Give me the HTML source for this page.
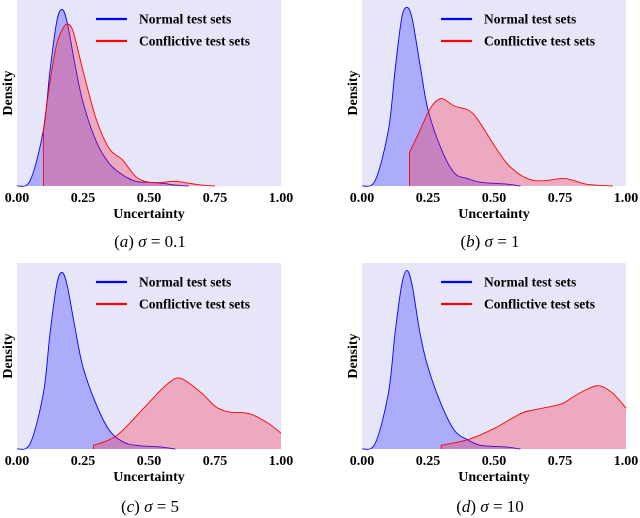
<!DOCTYPE html>
<html><head><meta charset="utf-8"><style>
body{margin:0;background:#fff;width:640px;height:518px;overflow:hidden}
svg{display:block}
text{font-family:"Liberation Serif",serif}
.tk{font-size:14px;font-weight:bold}
.lg{font-size:13.5px;font-weight:bold}
.cap{font-size:17px}
</style></head><body>
<svg id="c" width="640" height="518"></svg>
<script>
const tickLabels=["0.00","0.25","0.50","0.75","1.00"];
const tickValues=[0,0.25,0.5,0.75,1];
const capLetters=["a","b","c","d"];
const capValues=["0.1","1","5","10"];
const normalA=[[0,0],[0.05,0.03],[0.1,0.3],[0.125,0.62],[0.15,0.88],[0.17,0.95],[0.19,0.88],[0.22,0.65],[0.25,0.45],[0.3,0.24],[0.35,0.12],[0.4,0.06],[0.45,0.025],[0.5,0.02],[0.55,0.015],[0.6,0.005],[0.65,0]];
const conflA=[[0.1,0.3],[0.125,0.56],[0.15,0.76],[0.175,0.85],[0.195,0.87],[0.215,0.82],[0.25,0.62],[0.3,0.36],[0.35,0.2],[0.4,0.14],[0.45,0.05],[0.5,0.02],[0.55,0.02],[0.6,0.025],[0.65,0.015],[0.7,0.005],[0.75,0]];
const normalB=[[0,0],[0.05,0.03],[0.1,0.3],[0.125,0.62],[0.15,0.9],[0.17,0.96],[0.19,0.9],[0.22,0.65],[0.25,0.41],[0.3,0.2],[0.35,0.07],[0.4,0.04],[0.45,0.02],[0.55,0.01],[0.6,0]];
const conflB=[[0.18,0.18],[0.22,0.3],[0.26,0.42],[0.3,0.47],[0.35,0.43],[0.42,0.39],[0.5,0.22],[0.55,0.12],[0.6,0.06],[0.65,0.03],[0.7,0.03],[0.77,0.04],[0.85,0.01],[0.95,0]];
const normalC=[[0,0],[0.05,0.03],[0.1,0.3],[0.125,0.62],[0.15,0.88],[0.17,0.95],[0.19,0.88],[0.22,0.65],[0.25,0.44],[0.3,0.24],[0.35,0.1],[0.4,0.04],[0.45,0.02],[0.55,0.01],[0.6,0]];
const conflC=[[0.29,0.02],[0.35,0.05],[0.4,0.1],[0.5,0.25],[0.57,0.35],[0.62,0.38],[0.7,0.3],[0.75,0.23],[0.8,0.2],[0.88,0.19],[0.95,0.14],[1.0,0.085]];
const normalD=[[0,0],[0.05,0.03],[0.1,0.3],[0.125,0.62],[0.15,0.88],[0.17,0.96],[0.19,0.88],[0.22,0.62],[0.25,0.44],[0.3,0.24],[0.35,0.1],[0.4,0.05],[0.45,0.02],[0.55,0.01],[0.6,0]];
const conflD=[[0.3,0.02],[0.4,0.05],[0.5,0.11],[0.6,0.19],[0.65,0.21],[0.75,0.24],[0.8,0.28],[0.85,0.32],[0.9,0.34],[0.95,0.3],[1.0,0.22]];
const panels=[
 {x0:17,x1:281,top:0,bot:186,n:normalA,c:conflA,cx:150,cy:247},
 {x0:362,x1:626,top:0,bot:186,n:normalB,c:conflB,cx:490,cy:247},
 {x0:17,x1:281,top:263,bot:449,n:normalC,c:conflC,cx:150,cy:512},
 {x0:362,x1:626,top:263,bot:449,n:normalD,c:conflD,cx:490,cy:512}];
const svg=document.getElementById('c');const NS='http://www.w3.org/2000/svg';
function mk(t,a,p){const e=document.createElementNS(NS,t);for(const k in a)e.setAttribute(k,a[k]);(p||svg).appendChild(e);return e;}
function curve(pts){let d='M'+pts[0][0]+','+pts[0][1];for(let i=0;i<pts.length-1;i++){const p0=pts[Math.max(0,i-1)],p1=pts[i],p2=pts[i+1],p3=pts[Math.min(pts.length-1,i+2)];
 d+=` C${p1[0]+(p2[0]-p0[0])/6},${p1[1]+(p2[1]-p0[1])/6} ${p2[0]-(p3[0]-p1[0])/6},${p2[1]-(p3[1]-p1[1])/6} ${p2[0]},${p2[1]}`;}return d;}
panels.forEach((P,i)=>{
 const g=mk('g',{});
 
 
 const X=v=>P.x0+v*(P.x1-P.x0),Y=v=>P.bot-v*(P.bot-P.top);
 const bg=mk('rect',{x:P.x0,y:P.top,width:P.x1-P.x0,height:P.bot-P.top,fill:'#e6e6f8'},g);
 
 [[P.n,'#0000ff','rgba(40,40,255,0.3)','normal-density'],[P.c,'#ff0000','rgba(255,30,60,0.3)','conflictive-density']].forEach(([data,col,fill,nm])=>{
  const pts=data.map(d=>[X(d[0]),Y(d[1])]);const cd=curve(pts);
  const a=mk('path',{d:cd+` L${pts[pts.length-1][0]},${P.bot} L${pts[0][0]},${P.bot} Z`,fill:fill,stroke:'none'},g);
  
  const l=mk('path',{d:`M${pts[0][0]},${P.bot} L`+cd.slice(1),fill:'none',stroke:col,'stroke-width':0.9},g);
  
 });
 tickValues.forEach((v,j)=>{const t=mk('text',{x:X(v),y:P.bot+16,'text-anchor':'middle',class:'tk'},g);t.textContent=tickLabels[j];
  });
 const xt=mk('text',{x:(P.x0+P.x1)/2,y:P.bot+32,'text-anchor':'middle',class:'tk'},g);xt.textContent='Uncertainty';
 
 const ym=(P.top+P.bot)/2;const yt=mk('text',{x:P.x0-5,y:ym,transform:`rotate(-90 ${P.x0-5} ${ym})`,'text-anchor':'middle',class:'tk'},g);yt.textContent='Density';
 
 [['Normal test sets','#0000ff',19],['Conflictive test sets','#ff0000',41]].forEach(([s,col,dy])=>{
  const le=mk('g',{},g);
  mk('line',{x1:P.x0+79,x2:P.x0+110,y1:P.top+dy,y2:P.top+dy,stroke:col,'stroke-width':2.2},le);
  const t=mk('text',{x:P.x0+122,y:P.top+dy+4.5,class:'lg'},le);t.textContent=s;});
 const cp=mk('text',{x:P.cx,y:P.cy,'text-anchor':'middle',class:'cap'},g);
 cp.innerHTML=`(<tspan font-style="italic">${capLetters[i]}</tspan>)  <tspan font-style="italic">σ</tspan> = ${capValues[i]}`;
 
});
</script></body></html>
